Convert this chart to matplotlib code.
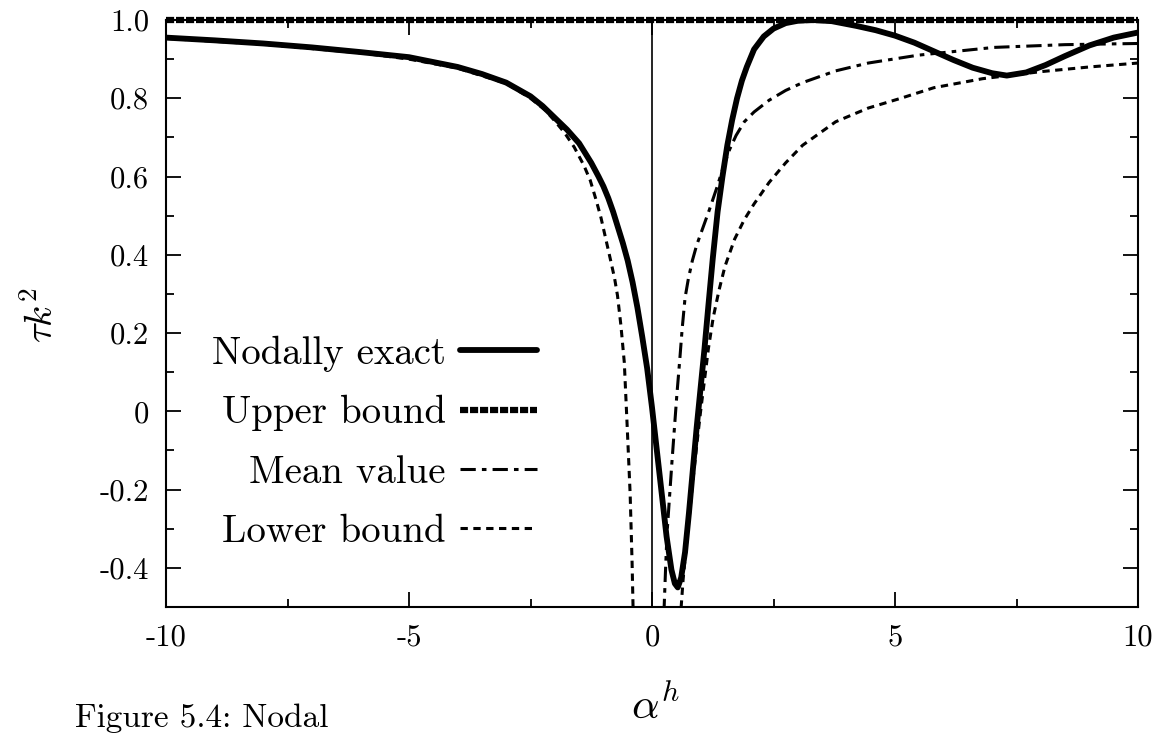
import numpy as np
import matplotlib
matplotlib.use('Agg')
import matplotlib.pyplot as plt
from matplotlib.ticker import FixedLocator, MultipleLocator, FixedFormatter

plt.rcParams['font.family'] = ['cmr10', 'DejaVu Serif']
plt.rcParams['mathtext.fontset'] = 'cm'
plt.rcParams['axes.unicode_minus'] = False

# tau*k^2 against alpha^h for the four stabilisation choices
x_exact = [-10, -9, -8, -7, -6, -5, -4, -3.5, -3, -2.5, -2.25, -2, -1.75,
           -1.5, -1.25, -1.1, -1.0, -0.9, -0.8, -0.7, -0.6, -0.5, -0.4, -0.3,
           -0.2, -0.1, 0.0, 0.1, 0.2, 0.3, 0.4, 0.47, 0.53, 0.6, 0.68, 0.76,
           0.84, 0.92, 1.0, 1.08, 1.16, 1.25, 1.35, 1.45, 1.55, 1.65, 1.75,
           1.85, 1.95, 2.1, 2.3, 2.5, 2.75, 3.0, 3.3, 3.7, 4.2, 4.6, 5.0, 5.4,
           5.8, 6.2, 6.6, 7.0, 7.3, 7.7, 8.1, 8.5, 9.0, 9.5, 10]
y_exact = [0.955, 0.948, 0.94, 0.93, 0.918, 0.905, 0.88, 0.862, 0.84, 0.805,
           0.78, 0.75, 0.72, 0.685, 0.635, 0.6, 0.575, 0.545, 0.51, 0.47,
           0.43, 0.385, 0.33, 0.265, 0.19, 0.11, 0.01, -0.1, -0.21, -0.32,
           -0.405, -0.44, -0.45, -0.425, -0.36, -0.26, -0.15, -0.04, 0.06,
           0.16, 0.27, 0.39, 0.51, 0.6, 0.68, 0.745, 0.8, 0.845, 0.88, 0.925,
           0.958, 0.978, 0.992, 0.998, 1.0, 0.997, 0.985, 0.974, 0.96, 0.942,
           0.92, 0.898, 0.878, 0.864, 0.858, 0.866, 0.885, 0.908, 0.935,
           0.955, 0.968]

x_upper = [-10, 10]
y_upper = [1.0, 1.0]

x_mean = [0.22, 0.25, 0.28, 0.31, 0.36, 0.41, 0.46, 0.51, 0.57, 0.62, 0.68,
          0.75, 0.83, 0.92, 1.05, 1.18, 1.33, 1.47, 1.6, 1.73, 1.9, 2.1, 2.41,
          2.75, 3.1, 3.78, 4.45, 5.47, 7.04, 8.5, 10]
y_mean = [-0.6, -0.5, -0.4, -0.31, -0.22, -0.13, -0.045, 0.04, 0.13, 0.21,
          0.29, 0.34, 0.385, 0.425, 0.47, 0.515, 0.57, 0.625, 0.67, 0.705,
          0.74, 0.765, 0.795, 0.82, 0.84, 0.87, 0.89, 0.91, 0.93, 0.937, 0.94]

x_lower_l = [-10, -8, -6, -5, -4, -3, -2.5, -2.2, -2, -1.8, -1.6, -1.4, -1.27,
             -1.15, -1.05, -0.95, -0.85, -0.77, -0.71, -0.64, -0.57, -0.51,
             -0.45, -0.41, -0.39, -0.38]
y_lower_l = [0.953, 0.938, 0.916, 0.9, 0.877, 0.838, 0.8, 0.77, 0.742, 0.712,
             0.675, 0.628, 0.59, 0.54, 0.495, 0.44, 0.385, 0.34, 0.296, 0.22,
             0.125, -0.04, -0.21, -0.385, -0.5, -0.6]
x_lower_r = [0.56, 0.6, 0.64, 0.7, 0.75, 0.83, 0.92, 1.0, 1.06, 1.16, 1.26,
             1.38, 1.5, 1.7, 1.9, 2.1, 2.41, 2.75, 3.1, 3.78, 4.45, 5.12, 5.8,
             6.8, 8.0, 9.0, 10]
y_lower_r = [-0.6, -0.5, -0.43, -0.35, -0.29, -0.19, -0.087, 0.0, 0.06, 0.16,
             0.24, 0.31, 0.37, 0.44, 0.49, 0.53, 0.585, 0.635, 0.68, 0.74,
             0.775, 0.8, 0.827, 0.85, 0.868, 0.88, 0.89]

labels = ['Nodally exact', 'Upper bound', 'Mean value', 'Lower bound']

fig = plt.figure(figsize=(11.55, 7.36), dpi=100)
ax = fig.add_axes([166 / 1155, 1 - 607 / 736, 972 / 1155, 587 / 736])

ax.axvline(0, color='black', lw=1.2)
h_exact, = ax.plot(x_exact, y_exact, color='black', lw=4.2,
                   solid_capstyle='round', solid_joinstyle='round')
h_upper, = ax.plot(x_upper, y_upper, color='black', lw=4.5,
                   dashes=(1.3, 0.3), clip_on=False, zorder=3)
h_mean, = ax.plot(x_mean, y_mean, color='black', lw=2.2,
                  dashes=(5, 2, 1.5, 2))
h_lower, = ax.plot(x_lower_l, y_lower_l, color='black', lw=2.2,
                   dashes=(2.4, 1.8))
ax.plot(x_lower_r, y_lower_r, color='black', lw=2.2, dashes=(2.4, 1.8))

ax.set_xlim(-10, 10)
ax.set_ylim(-0.5, 1.0)

xt = [-10, -5, 0, 5, 10]
yt = [-0.4, -0.2, 0, 0.2, 0.4, 0.6, 0.8, 1.0]
ax.xaxis.set_major_locator(FixedLocator(xt))
ax.xaxis.set_major_formatter(FixedFormatter(['-10', '-5', '0', '5', '10']))
ax.xaxis.set_minor_locator(MultipleLocator(2.5))
ax.yaxis.set_major_locator(FixedLocator(yt))
ax.yaxis.set_major_formatter(FixedFormatter(
    ['-0.4', '-0.2', '0', '0.2', '0.4', '0.6', '0.8', '1.0']))
ax.yaxis.set_minor_locator(MultipleLocator(0.1))

ax.tick_params(which='both', direction='in', top=True, right=True,
               width=1.3, labelsize=22, pad=12)
ax.tick_params(which='major', length=11)
ax.tick_params(which='minor', length=6)
for s in ax.spines.values():
    s.set_linewidth(1.5)

fig.text(655 / 1155, 1 - 705 / 736, r'$\alpha^h$', fontsize=31,
         ha='center', va='center')
fig.text(42 / 1155, 1 - 315 / 736, r'$\tau k^2$', fontsize=28,
         ha='center', va='center', rotation=90)
# caption line at the foot of the page
fig.text(75 / 1155, 1 - 727 / 736, 'Figure 5.4: Nodal', fontsize=24,
         ha='left', va='baseline')

ax.legend([h_exact, h_upper, h_mean, h_lower], labels, markerfirst=False,
          frameon=False, fontsize=28, handlelength=2.0, handletextpad=0.35,
          labelspacing=0.6, borderpad=0, borderaxespad=0,
          loc='center right', bbox_to_anchor=(0.382, 0.28))

fig.savefig('out.png', dpi=100)
